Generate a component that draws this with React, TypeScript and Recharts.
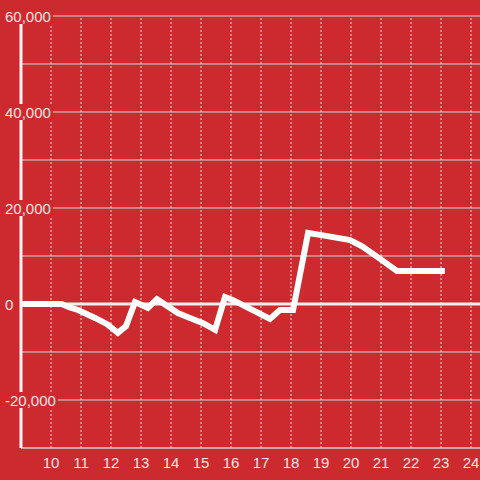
import React from "react";
import { LineChart, Line, XAxis, YAxis, ReferenceLine } from "recharts";

const xValues = [9.0, 10.35, 10.63, 10.9, 11.47, 11.87, 12.23, 12.5, 12.8, 13.23, 13.53, 14.23, 14.63, 15.07, 15.47, 15.8, 16.07, 17.3, 17.63, 18.07, 18.57, 18.97, 19.97, 20.37, 20.97, 21.53, 23.13];
const yValues = [0, 0, -700, -1250, -2900, -4200, -6000, -4600, 400, -800, 1000, -1900, -2900, -4000, -5400, 1450, 800, -3100, -1250, -1250, 14800, 14400, 13300, 12000, 9400, 6900, 6900];

const xTicks = [10, 11, 12, 13, 14, 15, 16, 17, 18, 19, 20, 21, 22, 23, 24];
const yTicks = [-30000, -20000, -10000, 0, 10000, 20000, 30000, 40000, 50000, 60000];
const yLabelled = [-20000, 0, 20000, 40000, 60000];

const data = xValues.map((x, i) => ({ x, v: yValues[i] }));

const BG = "#cc2a2f";
const FONT = "'Liberation Sans', Arial, sans-serif";
const LABEL = "#f5e4e4";

const fmt = (v: number) => v.toLocaleString("en-US");

const charW = (s: string) => {
  let w = 0;
  for (const c of s) {
    if (c === ",") w += 0.278;
    else if (c === "-") w += 0.333;
    else w += 0.556;
  }
  return w * 15;
};

const YTick = (props: any) => {
  const { y, payload } = props;
  const v = payload.value;
  if (!yLabelled.includes(v)) return null;
  const s = fmt(v);
  const w = charW(s);
  const x0 = 5;
  return (
    <g>
      <rect x={x0 - 1} y={y - 8} width={w + 3} height={16} fill={BG} />
      <text x={x0} y={y} dy={6} textAnchor="start" fontSize={15} fontFamily={FONT} fill={LABEL}>
        {s}
      </text>
    </g>
  );
};

const XTick = (props: any) => {
  const { x, y, payload } = props;
  return (
    <text x={x} y={y} dy={18} textAnchor="middle" fontSize={15} fontFamily={FONT} fill={LABEL}>
      {payload.value}
    </text>
  );
};

export default function App() {
  return (
    <div style={{ position: "absolute", left: 0, top: 0, width: 480, height: 480, background: BG }}>
      <LineChart width={480} height={480} data={data} margin={{ top: 16, right: 0, bottom: 0, left: 0 }}>
        {yTicks.map((t) => (
          <ReferenceLine key={"h" + t} y={t} stroke="#d6d6d6" strokeWidth={1} ifOverflow="visible" />
        ))}
        {xTicks.map((t) => (
          <ReferenceLine key={"v" + t} x={t} stroke="#dddddd" strokeDasharray="2 2" strokeWidth={1} ifOverflow="visible" />
        ))}
        <ReferenceLine y={0} stroke="#eeeeee" strokeWidth={3} />
        <Line
          type="linear"
          dataKey="v"
          stroke="#ffffff"
          strokeWidth={6}
          dot={false}
          activeDot={false}
          isAnimationActive={false}
        />
        <XAxis
          dataKey="x"
          type="number"
          domain={[9, 24.3]}
          ticks={xTicks}
          allowDataOverflow
          height={32}
          axisLine={{ stroke: "#cccccc", strokeWidth: 1 }}
          tickLine={false}
          tickSize={0}
          tick={<XTick />}
          interval={0}
        />
        <YAxis
          type="number"
          domain={[-30000, 60000]}
          ticks={yTicks}
          width={21}
          axisLine={{ stroke: "#f5f5f5", strokeWidth: 3 }}
          tickLine={false}
          tickSize={0}
          tick={<YTick />}
          interval={0}
        />
      </LineChart>
    </div>
  );
}
